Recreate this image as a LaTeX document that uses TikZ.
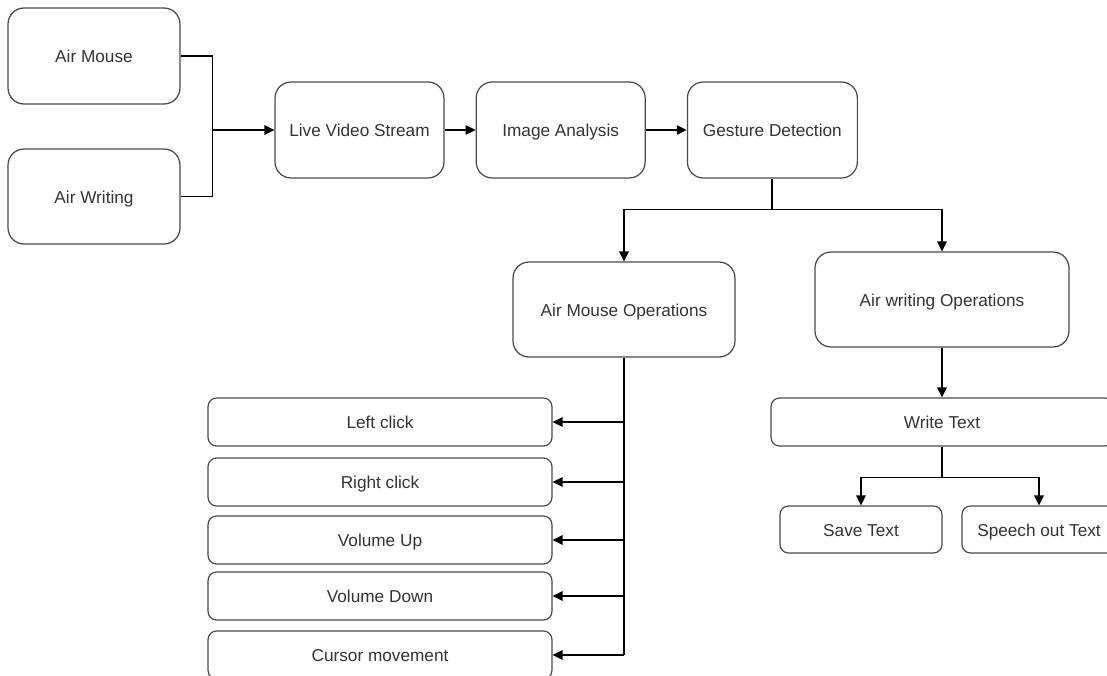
\documentclass[tikz,border=0pt]{standalone}
\usepackage{fontspec}
\setmainfont{Liberation Sans}
\usetikzlibrary{positioning,arrows.meta}
\definecolor{boxline}{HTML}{4A4A4A}
\definecolor{boxtext}{HTML}{333333}

\begin{document}
\begin{tikzpicture}[x=0.02cm,y=-0.02cm,
    font=\fontsize{9.8pt}{12pt}\selectfont,
    block/.style={draw=boxline,line width=0.7pt,rounded corners=0.32cm,text=boxtext,
        minimum width=3.4cm,minimum height=1.92cm,inner sep=0pt,
        text height=0.8em,text depth=0.04em},
    item/.style={draw=boxline,line width=0.7pt,rounded corners=0.17cm,text=boxtext,
        minimum width=6.88cm,minimum height=0.96cm,inner sep=0pt,
        text height=0.8em,text depth=0.04em},
    link/.style={line width=0.8pt},
    arrow/.style={link,-{Triangle[length=0.2cm,width=0.19cm]}}]

    \useasboundingbox (0,0) rectangle (1107,676);
    \clip (0,0) rectangle (1107,676);

    % top row
    \node[block,minimum width=3.44cm] (am) at (94,56) {Air Mouse};
    \node[block,minimum width=3.44cm,minimum height=1.9cm] (aw) at (94,196.5) {Air Writing};
    \node[block,minimum width=3.38cm] (lvs) at (359.5,130) {Live Video Stream};
    \node[block,minimum width=3.38cm,right=0.62cm of lvs] (ia) {Image Analysis};
    \node[block,right=0.82cm of ia] (gd) {Gesture Detection};

    % operations
    \node[block,minimum width=4.44cm,minimum height=1.9cm] (amo) at (624,309.5) {Air Mouse Operations};
    \node[block,minimum width=5.08cm,minimum height=1.9cm] (awo) at (942,299.5) {Air writing Operations};

    % air mouse actions
    \node[item] (lc) at (380,422) {Left click};
    \node[item] (rc) at (380,482) {Right click};
    \node[item] (vu) at (380,540) {Volume Up};
    \node[item] (vd) at (380,596) {Volume Down};
    \node[item] (cm) at (380,655) {Cursor movement};

    % air writing actions
    \node[item,minimum width=6.84cm] (wt) at (942,422) {Write Text};
    \node[item,minimum width=3.24cm,minimum height=0.94cm] (st) at (861,529.5) {Save Text};
    \node[item,minimum width=3.08cm,minimum height=0.94cm] (sot) at (1039,529.5) {Speech out Text};

    % connectors
    \path (am.east) -- (aw.east) coordinate[pos=0.5] (mid);
    \coordinate[right=0.64cm of mid] (jn);
    \draw[link] (am.east) -| (jn) |- (aw.east);
    \draw[arrow] (jn |- lvs.west) -- (lvs.west);
    \draw[arrow] (lvs) -- (ia);
    \draw[arrow] (ia) -- (gd);

    \draw[link,line width=1.2pt] (gd.south) -- ++(0,31) coordinate (gsplit);
    \draw[arrow] (gsplit) -| (amo.north);
    \draw[arrow] (gsplit) -| (awo.north);

    \draw[link] (amo.south) -- (amo.south |- cm.east);
    \foreach \n in {lc,rc,vu,vd,cm}
        \draw[arrow] (amo.south |- \n.east) -- (\n.east);

    \draw[arrow] (awo.south) -- (wt.north);
    \draw[arrow] (wt.south) -- ++(0,31) -| (st.north);
    \draw[arrow] (wt.south) -- ++(0,31) -| (sot.north);

\end{tikzpicture}
\end{document}
